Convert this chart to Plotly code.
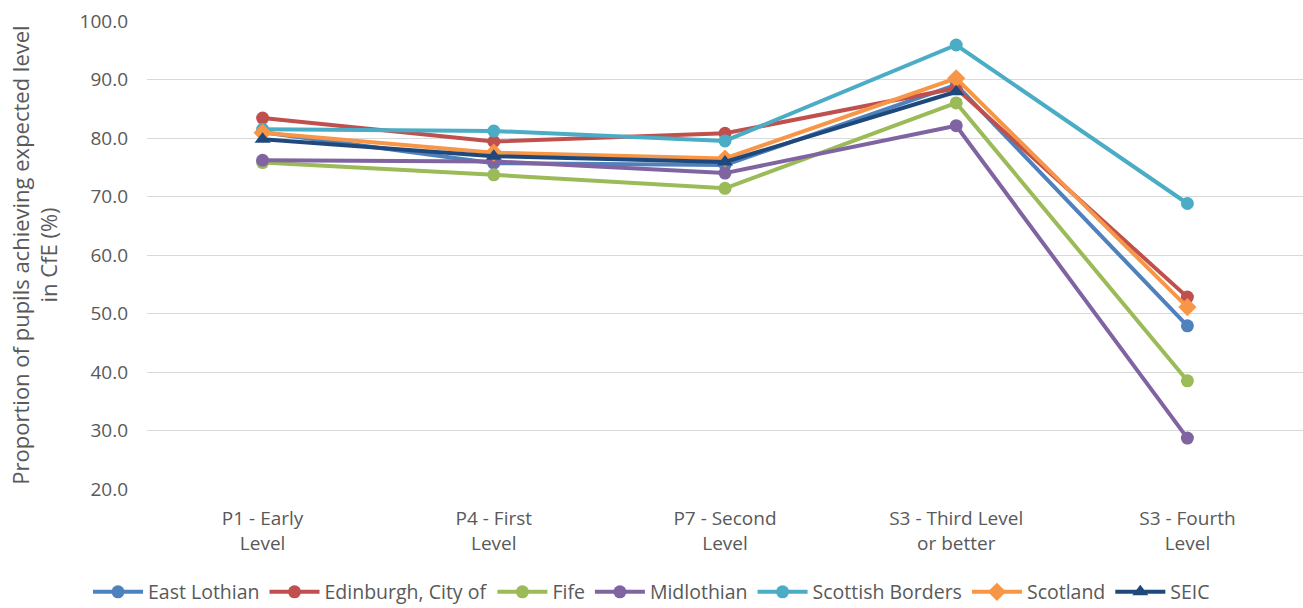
import plotly.graph_objects as go

categories = ["P1 - Early<br>Level", "P4 - First<br>Level", "P7 - Second<br>Level",
              "S3 - Third Level<br>or better", "S3 - Fourth<br>Level"]

east_lothian = [81.0, 75.7, 75.4, 89.1, 47.9]
edinburgh = [83.4, 79.4, 80.8, 88.5, 52.8]
fife = [75.8, 73.7, 71.4, 86.0, 38.5]
midlothian = [76.2, 76.0, 74.0, 82.1, 28.7]
scottish_borders = [81.5, 81.2, 79.5, 95.9, 68.8]
scotland = [80.9, 77.5, 76.5, 90.2, 51.1]
seic = [79.8, 76.9, 75.9, 87.9, None]

series = [
    ("East Lothian", east_lothian, "#4F81BD", "circle"),
    ("Edinburgh, City of", edinburgh, "#C0504D", "circle"),
    ("Fife", fife, "#9BBB59", "circle"),
    ("Midlothian", midlothian, "#8064A2", "circle"),
    ("Scottish Borders", scottish_borders, "#4BACC6", "circle"),
    ("Scotland", scotland, "#F79646", "diamond"),
    ("SEIC", seic, "#1F497D", "triangle-up"),
]

fig = go.Figure()
for name, vals, color, symbol in series:
    fig.add_trace(go.Scatter(
        x=categories, y=vals, name=name, mode="lines+markers",
        line=dict(color=color, width=4),
        marker=dict(color=color, symbol=symbol, size=14 if symbol != "circle" else 13),
    ))

font_family = "Open Sans, Liberation Sans, sans-serif"
fig.update_layout(
    width=1303, height=608,
    margin=dict(l=147, r=0, t=21, b=119),
    plot_bgcolor="white", paper_bgcolor="white",
    font=dict(family=font_family, size=19, color="#595959"),
    showlegend=True,
    legend=dict(orientation="h", xref="container", x=0.5, xanchor="center",
                yref="container", y=0.026, yanchor="middle",
                font=dict(size=19.5, color="#595959"), itemwidth=50,
                tracegroupgap=0),
    xaxis=dict(showgrid=False, showline=False, ticks="", tickfont=dict(size=19),
               range=[-0.5, 4.5], automargin=False, ticklabelstandoff=16),
    yaxis=dict(range=[20, 100], dtick=10, tickformat=".1f", showgrid=True,
               gridcolor="#D9D9D9", gridwidth=1, zeroline=False, showline=False,
               ticks="", tickfont=dict(size=19), automargin=False,
               ticklabelstandoff=18,
               title=dict(text="Proportion of pupils achieving expected level<br>in CfE (%)",
                          font=dict(size=22, color="#595959"), standoff=15)),
)

fig.write_html("out.html")
